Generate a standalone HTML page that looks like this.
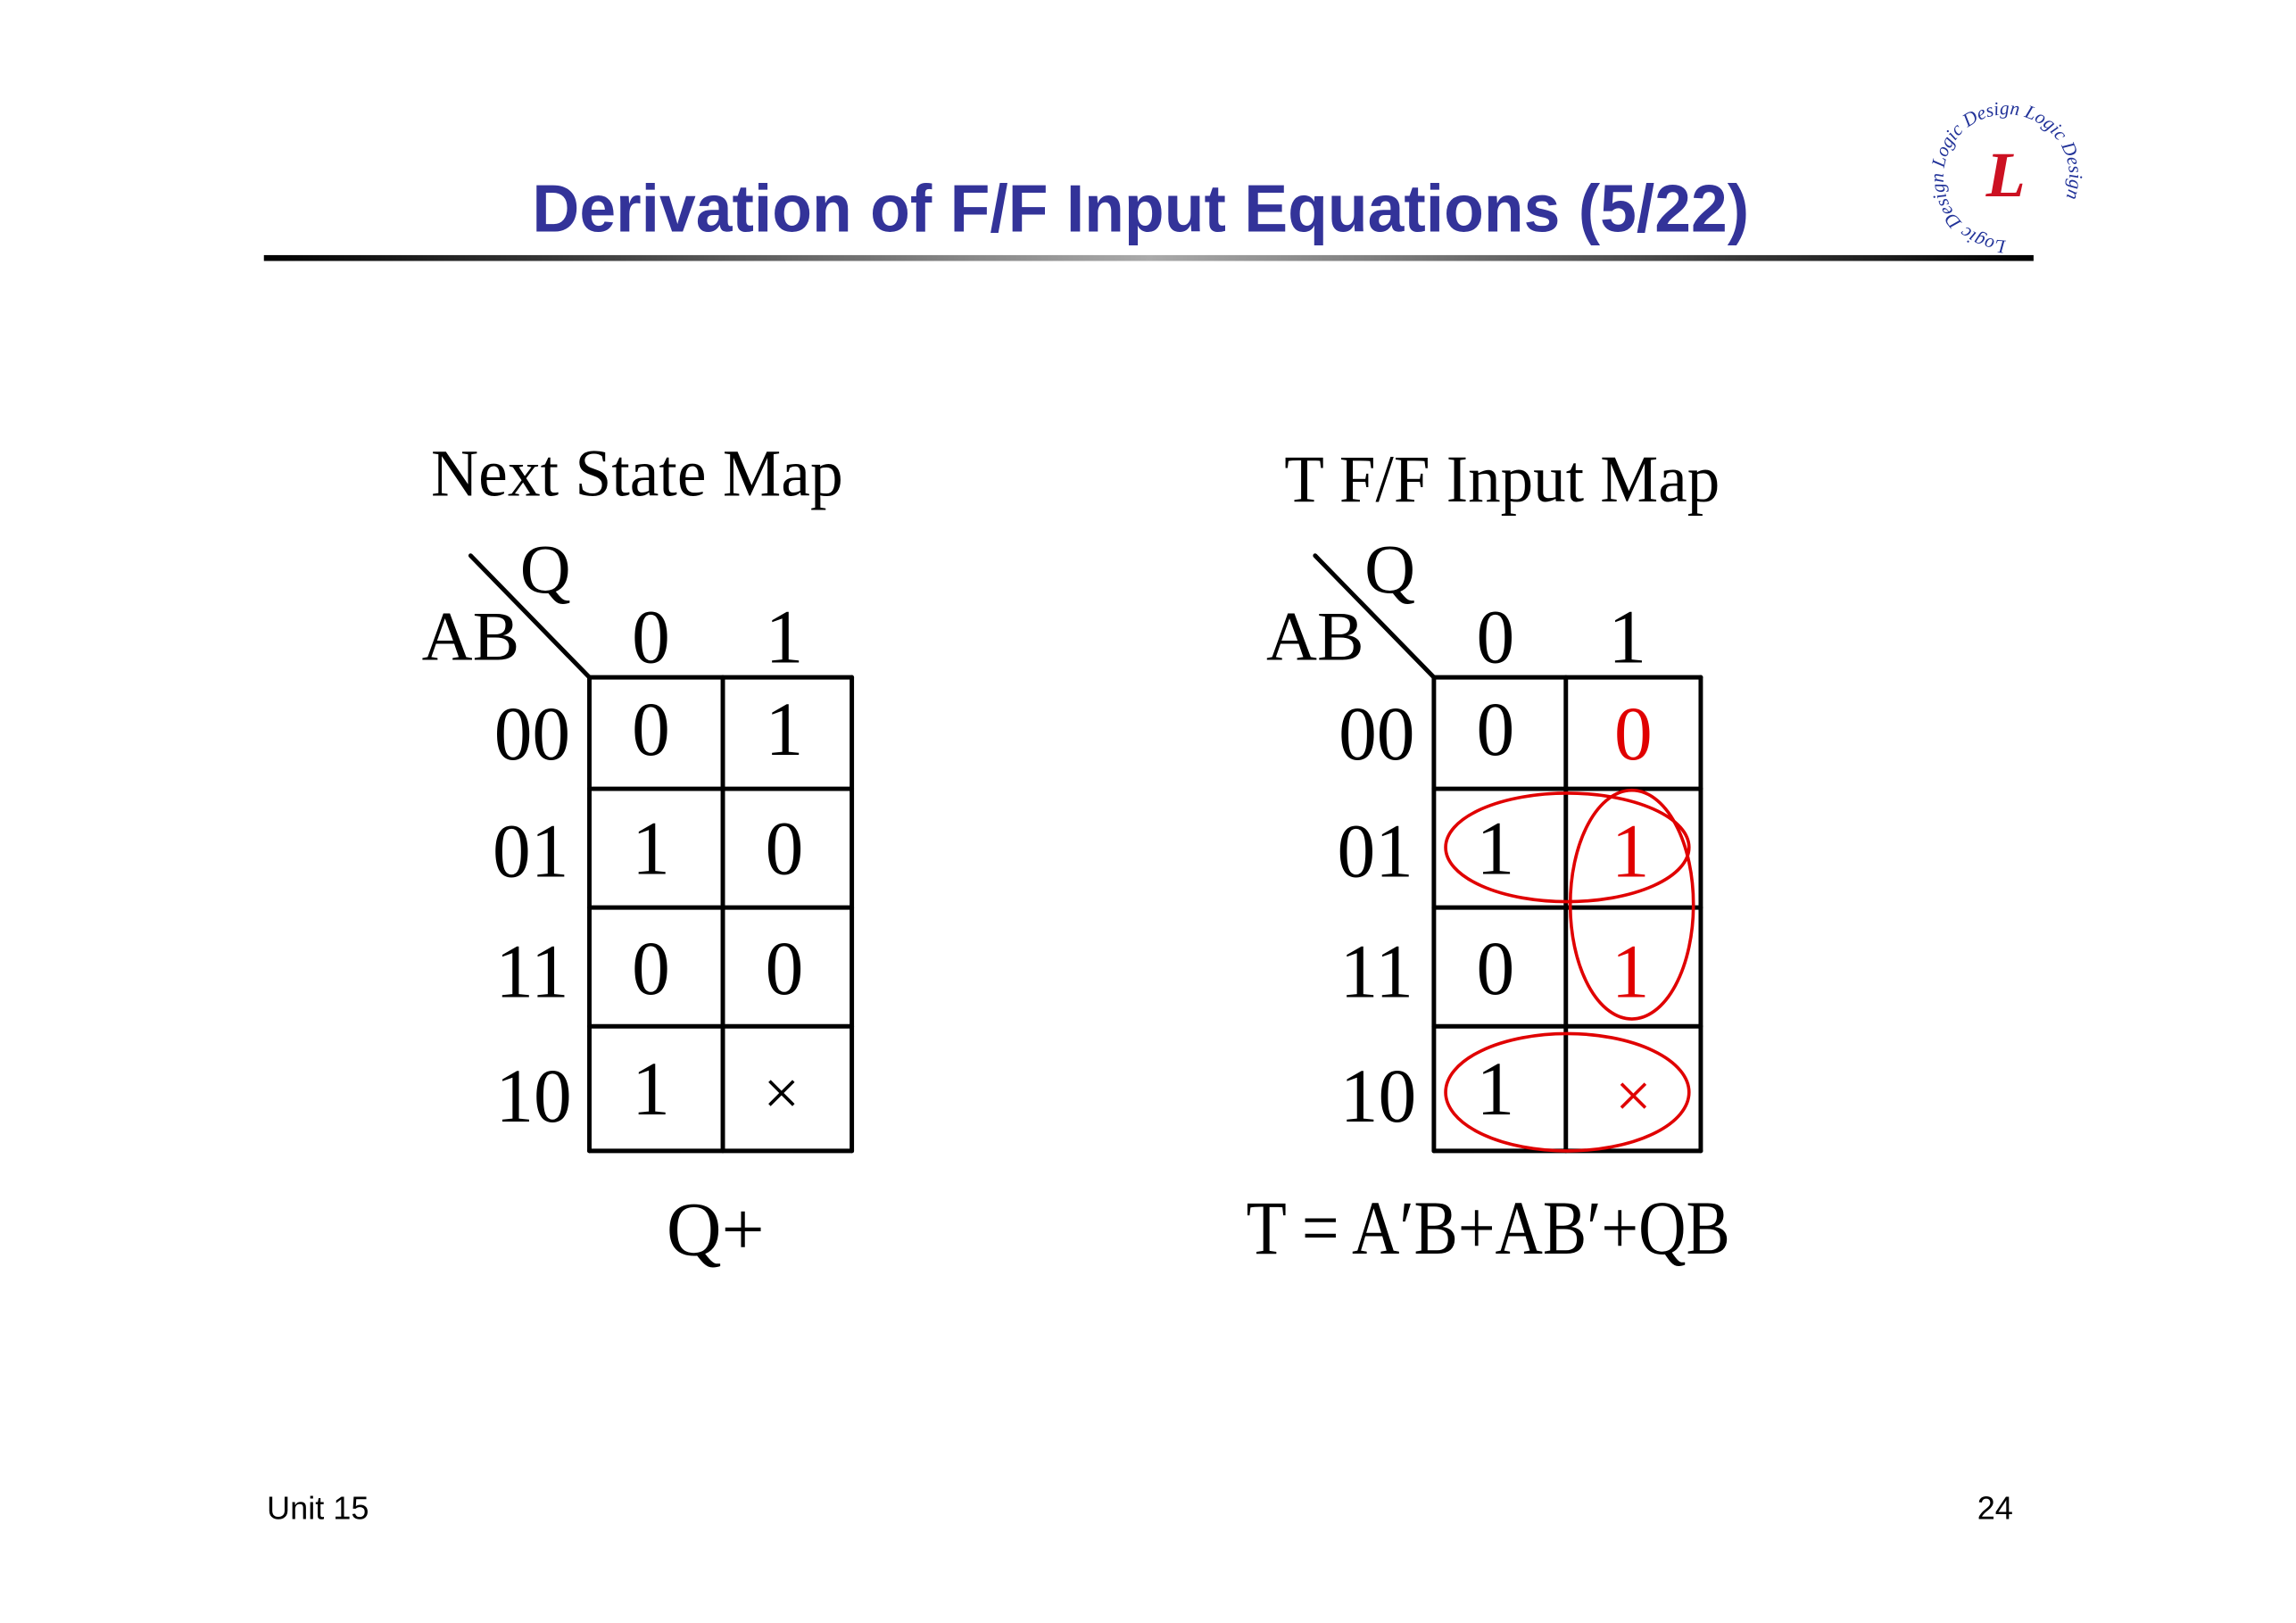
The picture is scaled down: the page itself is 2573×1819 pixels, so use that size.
<!DOCTYPE html>
<html><head><meta charset="utf-8"><style>html,body{margin:0;padding:0;background:#fff}svg{display:block}</style></head>
<body>
<svg width="2573" height="1819" viewBox="0 0 1566 1107" preserveAspectRatio="none" xmlns="http://www.w3.org/2000/svg">
<defs>
<linearGradient id="g" x1="0" x2="1"><stop offset="0" stop-color="#000"/><stop offset="0.5" stop-color="#aaa"/><stop offset="1" stop-color="#000"/></linearGradient>
<path id="circ" d="M1368,164 A43,43 0 1,1 1369,164"/>
</defs>
<rect width="1566" height="1107" fill="#fff"/>
<text x="363" y="158" font-family="Liberation Sans, sans-serif" font-weight="bold" font-size="46" fill="#333399" textLength="830" lengthAdjust="spacingAndGlyphs">Derivation of F/F Input Equations (5/22)</text>
<rect x="180" y="174" width="1207" height="4" fill="url(#g)"/>
<text font-family="Liberation Serif, serif" font-style="italic" font-size="13" fill="#223399"><textPath href="#circ" startOffset="0">Logic Design Logic Design Logic Design</textPath></text>
<text x="1368" y="134" text-anchor="middle" font-family="Liberation Serif, serif" font-style="italic" font-weight="bold" font-size="44" fill="#cc1122">L</text>

<g font-family="Liberation Serif, serif" fill="#000">
<text x="294" y="338" font-size="46" textLength="281" lengthAdjust="spacingAndGlyphs">Next State Map</text>
<text x="876" y="342" font-size="46" textLength="297" lengthAdjust="spacingAndGlyphs">T F/F Input Map</text>
</g>

<g stroke="#000" stroke-width="3" stroke-linecap="round" fill="none">
<line x1="321" y1="379" x2="402" y2="462"/>
<line x1="402" y1="462" x2="402" y2="785"/><line x1="493" y1="462" x2="493" y2="785"/><line x1="581" y1="462" x2="581" y2="785"/>
<line x1="402" y1="462" x2="581" y2="462"/><line x1="402" y1="538" x2="581" y2="538"/><line x1="402" y1="619" x2="581" y2="619"/><line x1="402" y1="700" x2="581" y2="700"/><line x1="402" y1="785" x2="581" y2="785"/>
<line x1="897" y1="379" x2="978" y2="462"/>
<line x1="978" y1="462" x2="978" y2="785"/><line x1="1068" y1="462" x2="1068" y2="785"/><line x1="1160" y1="462" x2="1160" y2="785"/>
<line x1="978" y1="462" x2="1160" y2="462"/><line x1="978" y1="538" x2="1160" y2="538"/><line x1="978" y1="619" x2="1160" y2="619"/><line x1="978" y1="700" x2="1160" y2="700"/><line x1="978" y1="785" x2="1160" y2="785"/>
</g>

<g font-family="Liberation Serif, serif" font-size="52" fill="#000" text-anchor="middle">
<text x="372" y="404" font-size="48">Q</text>
<text x="321" y="450" font-size="48">AB</text>
<text x="444" y="452">0</text><text x="535" y="452">1</text>
<text x="363" y="518">00</text><text x="362" y="598">01</text><text x="363" y="680">11</text><text x="364" y="765">10</text>
<text x="444" y="515">0</text><text x="535" y="515">1</text>
<text x="444" y="596">1</text><text x="535" y="596">0</text>
<text x="444" y="678">0</text><text x="535" y="678">0</text>
<text x="444" y="760">1</text><text x="533" y="760" font-size="44">×</text>
<text x="488" y="856">Q+</text>

<text x="948" y="404" font-size="48">Q</text>
<text x="897" y="450" font-size="48">AB</text>
<text x="1020" y="452">0</text><text x="1110" y="452">1</text>
<text x="939" y="518">00</text><text x="938" y="598">01</text><text x="939" y="680">11</text><text x="940" y="765">10</text>
<text x="1020" y="515">0</text><text x="1114" y="518" fill="#e00000">0</text>
<text x="1020" y="596">1</text><text x="1112" y="598" fill="#e00000">1</text>
<text x="1020" y="678">0</text><text x="1112" y="680" fill="#e00000">1</text>
<text x="1020" y="760">1</text><text x="1114" y="762" font-size="44" fill="#e00000">×</text>
<text x="850" y="855" text-anchor="start" textLength="330" lengthAdjust="spacingAndGlyphs">T = A′B+AB′+QB</text>
</g>

<g stroke="#e00000" stroke-width="2.2" fill="none">
<ellipse cx="1069" cy="578" rx="83" ry="37"/>
<ellipse cx="1113" cy="617" rx="42" ry="78"/>
<ellipse cx="1069" cy="745" rx="83" ry="40"/>
</g>

<g font-family="Liberation Sans, sans-serif" font-size="22" fill="#000">
<text x="182" y="1036">Unit 15</text>
<text x="1373" y="1036" text-anchor="end">24</text>
</g>
</svg>
</body></html>
